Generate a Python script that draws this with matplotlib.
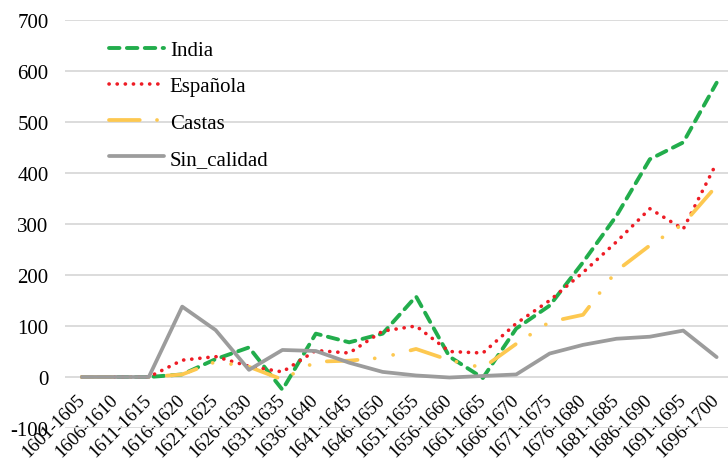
import matplotlib
matplotlib.use("Agg")
import matplotlib.pyplot as plt
from matplotlib.transforms import ScaledTranslation

periods = ["1601-1605", "1606-1610", "1611-1615", "1616-1620", "1621-1625",
           "1626-1630", "1631-1635", "1636-1640", "1641-1645", "1646-1650",
           "1651-1655", "1656-1660", "1661-1665", "1666-1670", "1671-1675",
           "1676-1680", "1681-1685", "1686-1690", "1691-1695", "1696-1700"]
india = [0, 0, 0, 5, 35, 58, -25, 85, 68, 85, 158, 40, -2, 95, 140, 225, 316, 427, 460, 577]
espanola = [0, 0, 0, 33, 40, 21, 10, 52, 47, 90, 100, 50, 47, 105, 150, 205, 265, 330, 290, 420]
castas = [0, 0, 0, 5, 30, 20, -5, 30, 32, 38, 55, 33, 18, 65, 108, 122, 208, 258, 300, 375]
sin_calidad = [0, 0, 0, 138, 92, 14, 53, 51, 28, 10, 3, -1, 2, 5, 46, 63, 75, 79, 91, 39]
yticks = list(range(-100, 701, 100))

plt.rcParams["font.family"] = ["Liberation Serif", "DejaVu Serif"]
plt.rcParams["font.size"] = 15
plt.rcParams["axes.unicode_minus"] = False

fig = plt.figure(figsize=(7.28, 4.64), dpi=100)
ax = fig.add_axes([65.3 / 728, 1 - 429 / 464, 1 - 65.3 / 728, (429 - 21) / 464])

x = list(range(len(periods)))
ax.plot(x, india, color="#22AD4C", lw=2.8, ls=(0, (2.7, 1.9)),
        dash_capstyle="round", label="India")
ax.plot(x, espanola, color="#EE1C25", lw=2.6, ls=(0, (0.05, 2.2)),
        dash_capstyle="round", label="Española")
ax.plot(x, castas, color="#FDC850", lw=2.7, ls=(0, (8.2, 4.6, 0.01, 5.0, 0.01, 4.8)),
        dash_capstyle="round", label="Castas")
ax.plot(x, sin_calidad, color="#9C9C9C", lw=2.7, solid_capstyle="round",
        label="Sin_calidad")

ax.set_ylim(-100, 700)
ax.set_xlim(-0.5, 19.34)
ax.set_yticks(yticks)
ax.yaxis.grid(True, color="#D9D9D9", lw=1.3)
ax.set_axisbelow(True)
for s in ax.spines.values():
    s.set_visible(False)
# x labels hang from the zero line, like the original
ax.spines["bottom"].set_position(("data", 0))
ax.tick_params(axis="y", length=0, pad=12)
ax.tick_params(axis="x", length=0, pad=10, labelsize=13.5)
ax.set_xticks(x, periods, rotation=45, ha="right", va="top", rotation_mode="anchor")
off = ScaledTranslation(-6 / 100, 0, fig.dpi_scale_trans)
for lbl in ax.get_xticklabels():
    lbl.set_transform(lbl.get_transform() + off)

ax.legend(loc="upper left", bbox_to_anchor=(99 / 728, 1 - 31 / 464),
          bbox_transform=fig.transFigure, frameon=False, borderpad=0,
          handlelength=2.6, handletextpad=0.3, labelspacing=0.8)

fig.savefig("out.png", dpi=100)
